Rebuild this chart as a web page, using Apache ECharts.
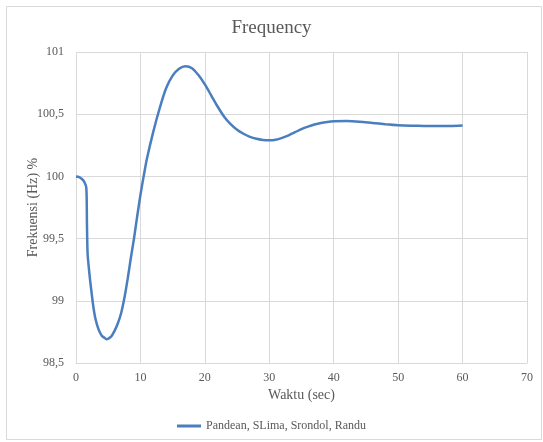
<!DOCTYPE html>
<html>
<head>
<meta charset="utf-8">
<script src="https://cdn.jsdelivr.net/npm/echarts@6/dist/echarts.min.js"></script>
<style>
html,body{margin:0;padding:0;background:#fff;}
#chart{width:543px;height:442px;}
</style>
</head>
<body>
<div id="chart"></div>
<script>
const titleText = 'Frequency';
const seriesName = 'Pandean, SLima, Srondol, Randu';
const xAxisName = 'Waktu (sec)';
const yAxisName = 'Frekuensi (Hz) %';
const xTicks = [0, 10, 20, 30, 40, 50, 60, 70];
const yTicks = [98.5, 99, 99.5, 100, 100.5, 101];

const timeSec = [0, 0.5, 1, 1.3, 1.6, 1.7, 1.8, 2.0, 2.2, 2.5, 2.7, 3.0, 3.5, 4.0, 4.5, 4.75, 5.0, 5.5, 6.0, 6.5, 7.0, 7.5, 8.0, 8.5, 9.0, 9.5, 10.0, 10.5, 11, 12, 13, 14, 15, 16, 17, 18, 19, 20, 21, 22, 23, 24, 25, 26, 27, 28, 29, 30, 31, 32, 33, 34, 35, 36, 37, 38, 39, 40, 42, 44, 46, 48, 50, 52, 54, 56, 58, 60];
const freqPct = [100.0, 99.995, 99.975, 99.955, 99.91, 99.62, 99.38, 99.26, 99.16, 99.03, 98.95, 98.86, 98.77, 98.72, 98.70, 98.69, 98.695, 98.715, 98.76, 98.82, 98.9, 99.02, 99.17, 99.34, 99.5, 99.68, 99.85, 100.0, 100.14, 100.36, 100.55, 100.71, 100.81, 100.865, 100.885, 100.87, 100.815, 100.74, 100.65, 100.56, 100.48, 100.42, 100.375, 100.343, 100.318, 100.302, 100.293, 100.29, 100.295, 100.31, 100.33, 100.355, 100.38, 100.40, 100.417, 100.43, 100.438, 100.443, 100.445, 100.44, 100.43, 100.42, 100.412, 100.408, 100.406, 100.405, 100.406, 100.41];

const seriesData = timeSec.map((t, i) => [t, freqPct[i]]);

const chart = echarts.init(document.getElementById('chart'), null, {renderer: 'canvas'});
const font = 'Liberation Serif';
const txt = '#595959';
const gridCol = '#d9d9d9';

chart.setOption({
  animation: false,
  backgroundColor: '#ffffff',
  graphic: [{
    type: 'rect',
    shape: {x: 6.5, y: 6.5, width: 535, height: 433},
    style: {fill: 'none', stroke: '#d9d9d9', lineWidth: 1},
    silent: true, z: -1
  }],
  title: {
    text: titleText,
    left: 'center',
    top: 14,
    textStyle: {fontFamily: font, fontSize: 19, fontWeight: 'normal', color: txt}
  },
  legend: {
    data: [seriesName],
    bottom: 5,
    left: 'center',
    icon: 'rect',
    itemWidth: 24,
    itemHeight: 3,
    itemGap: 5,
    textStyle: {fontFamily: font, fontSize: 12, color: txt}
  },
  grid: {left: 76, right: 16, top: 52, bottom: 79, containLabel: false},
  xAxis: {
    type: 'value',
    min: xTicks[0],
    max: xTicks[xTicks.length - 1],
    interval: 10,
    name: xAxisName,
    nameLocation: 'middle',
    nameGap: 25,
    nameMoveOverlap: false,
    nameTextStyle: {fontFamily: font, fontSize: 14, color: txt},
    axisLine: {show: true, lineStyle: {color: gridCol}},
    axisTick: {show: false},
    axisLabel: {fontFamily: font, fontSize: 12, color: txt, margin: 9},
    splitLine: {show: true, lineStyle: {color: gridCol}}
  },
  yAxis: {
    type: 'value',
    min: yTicks[0],
    max: yTicks[yTicks.length - 1],
    interval: 0.5,
    name: yAxisName,
    nameLocation: 'middle',
    nameGap: 36,
    nameMoveOverlap: false,
    nameRotate: 90,
    nameTextStyle: {fontFamily: font, fontSize: 14, color: txt},
    axisLine: {show: false},
    axisTick: {show: false},
    axisLabel: {
      fontFamily: font, fontSize: 12, color: txt, margin: 12,
      formatter: v => String(v).replace('.', ',')
    },
    splitLine: {show: true, lineStyle: {color: gridCol}}
  },
  series: [{
    name: seriesName,
    type: 'line',
    data: seriesData,
    showSymbol: false,
    smooth: 0.3,
    lineStyle: {color: '#4a7ebf', width: 2.5},
    itemStyle: {color: '#4a7ebf'}
  }]
});
</script>
</body>
</html>
